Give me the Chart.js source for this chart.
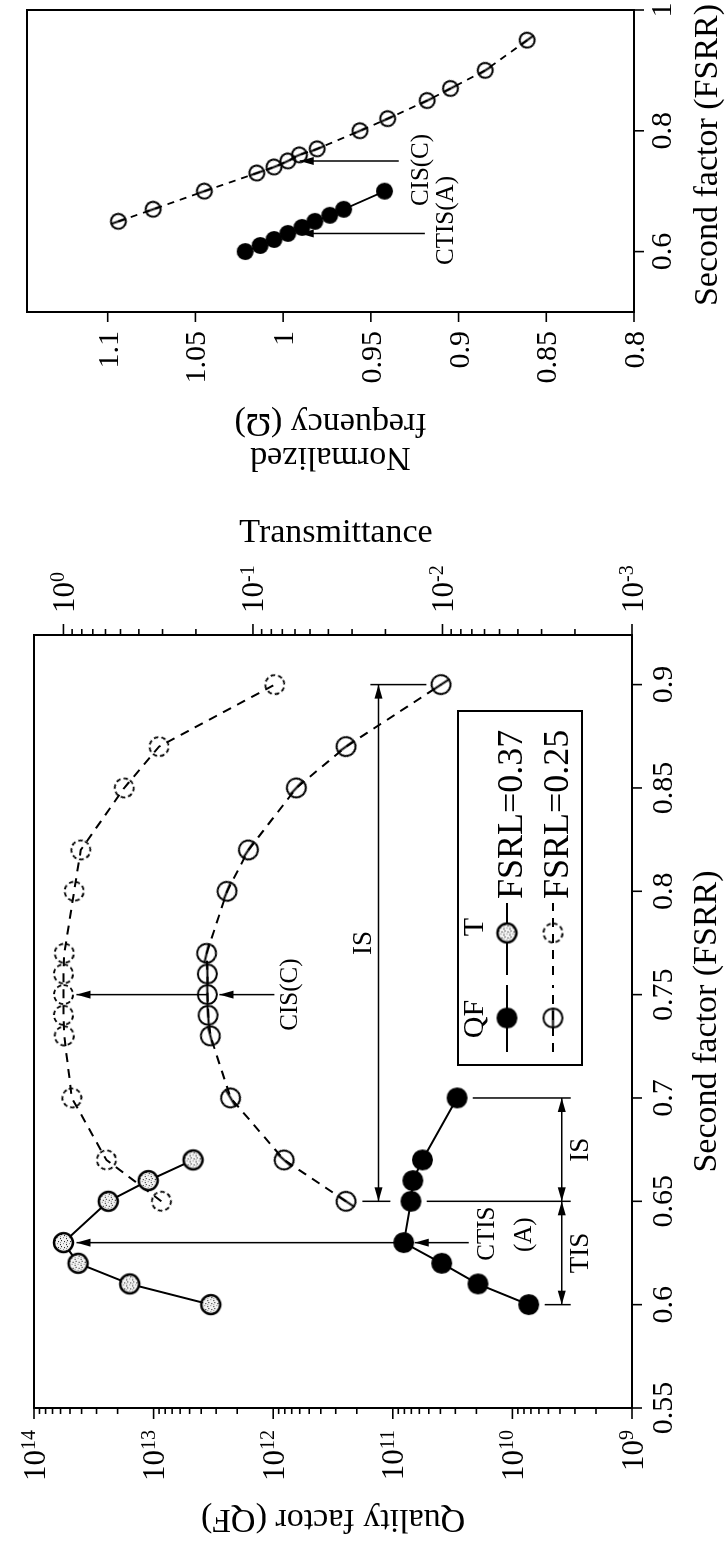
<!DOCTYPE html>
<html>
<head>
<meta charset="utf-8">
<script src="https://cdn.jsdelivr.net/npm/chart.js@4.4.1/dist/chart.umd.min.js"></script>
<style>
html, body { margin: 0; padding: 0; background: #fff; }
body { width: 728px; height: 1541px; overflow: hidden; position: relative; }
/* the figure is drawn in landscape and turned a quarter turn, like the scanned page */
#page { position: absolute; left: 0; top: 0; width: 1541px; height: 728px;
        transform-origin: 0 0; transform: translateY(1541px) rotate(-90deg); }
#c1 { position: absolute; left: 0; top: 0; }
#c2 { position: absolute; left: 1050px; top: 0; }
</style>
</head>
<body>
<div id="page">
  <canvas id="c1" width="1050" height="728"></canvas>
  <canvas id="c2" width="491" height="728"></canvas>
</div>
<script>
const SERIF = '"Liberation Serif", "Times New Roman", serif';

// ---- left panel: quality factor and transmittance vs FSRR ----
const fsrrQF37 = [0.60, 0.61, 0.62, 0.63, 0.65, 0.66, 0.67, 0.70];
const qf37     = [7.3e9, 1.94e10, 3.9e10, 8.1e10, 7.05e10, 6.8e10, 5.65e10, 2.9e10];
const fsrrT37  = [0.60, 0.61, 0.62, 0.63, 0.65, 0.66, 0.67];
const t37      = [0.167, 0.447, 0.837, 1.0, 0.58, 0.357, 0.207];
const fsrr25   = [0.65, 0.67, 0.70, 0.73, 0.74, 0.75, 0.76, 0.77, 0.80, 0.82, 0.85, 0.87, 0.90];
const qf25     = [2.46e11, 8.1e11, 2.27e12, 3.35e12, 3.5e12, 3.55e12, 3.55e12, 3.6e12, 2.43e12, 1.61e12, 6.4e11, 2.46e11, 3.95e10];
const t25      = [0.304, 0.593, 0.903, 0.99, 1.0, 1.0, 1.0, 0.99, 0.878, 0.81, 0.478, 0.313, 0.0767];

// ---- right panel: normalized frequency vs FSRR ----
const fsrrCTIS  = [0.60, 0.61, 0.62, 0.63, 0.64, 0.65, 0.66, 0.67, 0.70];
const omegaCTIS = [1.0216, 1.0131, 1.0052, 0.9973, 0.9893, 0.9819, 0.9734, 0.9655, 0.9422];
const fsrrCIS   = [0.65, 0.67, 0.70, 0.73, 0.74, 0.75, 0.76, 0.77, 0.80, 0.82, 0.85, 0.87, 0.90, 0.95];
const omegaCIS  = [1.0939, 1.0741, 1.0449, 1.015, 1.0052, 0.9973, 0.9907, 0.9806, 0.9562, 0.9404, 0.9179, 0.9046, 0.8848, 0.8609];

// ---- ticks ----
const fsrrTicksA = [0.55, 0.6, 0.65, 0.7, 0.75, 0.8, 0.85, 0.9];
const qfDecades  = [9, 10, 11, 12, 13, 14];
const tDecades   = [-3, -2, -1, 0];
const omegaTicks = [0.8, 0.85, 0.9, 0.95, 1, 1.05, 1.1];
const fsrrTicksB = [0.6, 0.8, 1];

// annotation levels (in QF units) for the IS / TIS dimension lines
const isLevel25 = 1.32e11;
const isLevel37 = 3.87e9;

const pt = (xs, ys) => xs.map((x, i) => ({x, y: ys[i]}));
const fmt = v => String(+v.toFixed(2));

function stipple(g) {
    const p = document.createElement('canvas');
    p.width = p.height = 6;
    const q = p.getContext('2d');
    q.fillStyle = '#f2f2f2';
    q.fillRect(0, 0, 6, 6);
    q.fillStyle = '#111';
    q.fillRect(1, 1, 1, 1);
    q.fillRect(4, 3, 1, 1);
    q.fillRect(2, 4, 1, 1);
    q.fillStyle = '#888';
    q.fillRect(5, 0, 1, 1);
    q.fillRect(0, 3, 1, 1);
    return g.createPattern(p, 'repeat');
}

function makeMarker(kind, r) {
    const s = Math.ceil(r * 2 + 6), m = s / 2;
    const c = document.createElement('canvas');
    c.width = c.height = s;
    const g = c.getContext('2d');
    g.strokeStyle = '#000';
    g.fillStyle = '#000';
    g.lineWidth = 2;
    g.beginPath();
    g.arc(m, m, kind === 'filled' ? r + 1 : r, 0, Math.PI * 2);
    if (kind === 'filled') {
        g.fill();
    } else if (kind === 'hatched') {
        g.fillStyle = stipple(g);
        g.fill();
        g.lineWidth = 2.4;
        g.stroke();
    } else if (kind === 'slash') {
        g.stroke();
        g.beginPath();
        g.moveTo(m - r, m);
        g.lineTo(m + r, m);
        g.stroke();
    } else {
        g.setLineDash([4.5, 3]);
        g.lineWidth = 1.8;
        g.stroke();
    }
    return c;
}

const MK = {
    filled: makeMarker('filled', 9.5), hatched: makeMarker('hatched', 9.5),
    slash: makeMarker('slash', 9.5), dashed: makeMarker('dashed', 9.5),
};
const MKs = {filled: makeMarker('filled', 7.5), slash: makeMarker('slash', 7.5)};

// rotate the open markers so their bar follows the connecting line
function segAngle(c) {
    const ds = c.dataset;
    const xs = c.chart.scales.x, ys = c.chart.scales[ds.yAxisID || 'y'];
    const n = ds.data.length, i = c.dataIndex;
    const a = ds.data[Math.max(i - 1, 0)], b = ds.data[Math.min(i + 1, n - 1)];
    const dx = xs.getPixelForValue(b.x) - xs.getPixelForValue(a.x);
    const dy = ys.getPixelForValue(b.y) - ys.getPixelForValue(a.y);
    return Math.atan2(dy, dx) * 180 / Math.PI;
}

function logTicks(decades) {
    const out = [];
    decades.forEach((e, k) => {
        for (let m = 1; m <= 9; m++) {
            if (k === decades.length - 1 && m > 1) break;
            out.push({value: m * Math.pow(10, e), major: m === 1});
        }
    });
    return out;
}

// ------------------------------------------------------------------
// drawing helpers
// ------------------------------------------------------------------

function line(ctx, x1, y1, x2, y2) {
    ctx.beginPath();
    ctx.moveTo(x1, y1);
    ctx.lineTo(x2, y2);
    ctx.stroke();
}

function head(ctx, x, y, ang) {
    const len = 14, w = 4;
    ctx.beginPath();
    ctx.moveTo(x, y);
    ctx.lineTo(x - len * Math.cos(ang) - w * Math.sin(ang), y - len * Math.sin(ang) + w * Math.cos(ang));
    ctx.lineTo(x - len * Math.cos(ang) + w * Math.sin(ang), y - len * Math.sin(ang) - w * Math.cos(ang));
    ctx.closePath();
    ctx.fill();
}

function arrow(ctx, x1, y1, x2, y2, both) {
    line(ctx, x1, y1, x2, y2);
    const ang = Math.atan2(y2 - y1, x2 - x1);
    head(ctx, x2, y2, ang);
    if (both) head(ctx, x1, y1, ang + Math.PI);
}

function powLabel(ctx, exp, x, y, align) {
    const es = String(exp);
    ctx.font = `31px ${SERIF}`;
    const wb = ctx.measureText('10').width;
    ctx.font = `20px ${SERIF}`;
    const we = ctx.measureText(es).width;
    const left = align === 'right' ? x - wb - we : x;
    ctx.textAlign = 'left';
    ctx.textBaseline = 'alphabetic';
    ctx.font = `31px ${SERIF}`;
    ctx.fillText('10', left, y + 10.5);
    ctx.font = `20px ${SERIF}`;
    ctx.fillText(es, left + wb, y + 1);
}

function rotText(ctx, txt, x, y, ang) {
    ctx.save();
    ctx.translate(x, y);
    ctx.rotate(ang);
    ctx.textAlign = 'center';
    ctx.textBaseline = 'alphabetic';
    ctx.fillText(txt, 0, 0);
    ctx.restore();
}

function marks(ctx, scale, side, edge, lenFn) {
    scale.ticks.forEach(t => {
        const p = scale.getPixelForValue(t.value);
        const len = lenFn(t);
        if (side === 'left') line(ctx, edge, p, edge - len, p);
        else if (side === 'right') line(ctx, edge, p, edge + len, p);
        else line(ctx, p, edge, p, edge + len);
    });
}

function drawLegend(ctx, a) {
    const L = a.left + 343, T = a.top + 424, W = 354, H = 124;
    ctx.lineWidth = 2;
    ctx.strokeRect(L, T, W, H);
    ctx.font = `30px ${SERIF}`;
    ctx.textAlign = 'center';
    ctx.textBaseline = 'alphabetic';
    ctx.fillText('QF', L + 46, T + 25);
    ctx.fillText('T', L + 138, T + 25);
    const rows = [
        {y: T + 49, dash: [], qm: MK.filled, tm: MK.hatched, txt: 'FSRL=0.37'},
        {y: T + 95, dash: [9, 7], qm: MK.slash, tm: MK.dashed, txt: 'FSRL=0.25'},
    ];
    rows.forEach(r => {
        ctx.lineWidth = 2;
        ctx.setLineDash(r.dash);
        line(ctx, L + 13, r.y, L + 80, r.y);
        line(ctx, L + 90, r.y, L + 162, r.y);
        ctx.setLineDash([]);
        ctx.drawImage(r.qm, L + 47 - r.qm.width / 2, r.y - r.qm.height / 2);
        ctx.drawImage(r.tm, L + 132 - r.tm.width / 2, r.y - r.tm.height / 2);
        ctx.font = `36px ${SERIF}`;
        ctx.textAlign = 'left';
        ctx.fillText(r.txt, L + 166, r.y + 15);
    });
}

const hidden = {grid: {display: false, drawTicks: false}, border: {display: false}, ticks: {display: false}};

// ------------------------------------------------------------------
// left panel
// ------------------------------------------------------------------

const frameLeft = {
    id: 'frameLeft',
    afterDraw(chart) {
        const {ctx, chartArea: a, scales: {x, yQF, yT}} = chart;
        ctx.save();
        ctx.strokeStyle = '#000';
        ctx.fillStyle = '#000';
        ctx.lineWidth = 2;
        ctx.strokeRect(a.left, a.top, a.right - a.left, a.bottom - a.top);

        ctx.lineWidth = 1.6;
        marks(ctx, x, 'bottom', a.bottom, () => 10);
        marks(ctx, yQF, 'left', a.left, t => t.major ? 11 : 6);
        marks(ctx, yT, 'right', a.right, t => t.major ? 11 : 6);

        // tick labels
        ctx.font = `30px ${SERIF}`;
        ctx.textAlign = 'center';
        ctx.textBaseline = 'alphabetic';
        x.ticks.forEach(t => ctx.fillText(fmt(t.value), x.getPixelForValue(t.value), a.bottom + 40));
        qfDecades.forEach(e => powLabel(ctx, e, a.left - 22, yQF.getPixelForValue(Math.pow(10, e)), 'right'));
        tDecades.forEach(e => powLabel(ctx, e, a.right + 22, yT.getPixelForValue(Math.pow(10, e)), 'left'));

        // axis titles
        ctx.font = `34px ${SERIF}`;
        const midY = (a.top + a.bottom) / 2;
        rotText(ctx, 'Quality factor (QF)', 31, midY, -Math.PI / 2);
        rotText(ctx, 'Transmittance', a.right + 93, midY + 3, Math.PI / 2);
        rotText(ctx, 'Second factor (FSRR)', (a.left + a.right) / 2, a.bottom + 84, 0);

        // annotations
        ctx.lineWidth = 1.5;
        ctx.font = `25px ${SERIF}`;
        ctx.textAlign = 'center';

        // CTIS (A) at FSRR 0.63
        const xA = x.getPixelForValue(0.63);
        const yAq = yQF.getPixelForValue(qf37[3]);
        const yAt = yT.getPixelForValue(t37[3]);
        arrow(ctx, xA, yAq, xA, yAt + 13);
        arrow(ctx, xA, yAq + 65, xA, yAq + 11);
        ctx.fillText('CTIS', xA + 9, yAq + 90);
        ctx.fillText('(A)', xA + 8, yAq + 127);

        // CIS(C) at FSRR 0.75
        const xC = x.getPixelForValue(0.75);
        const yCq = yQF.getPixelForValue(qf25[5]);
        const yCt = yT.getPixelForValue(t25[5]);
        arrow(ctx, xC, yCq, xC, yCt + 13);
        arrow(ctx, xC, yCq + 67, xC, yCq + 12);
        ctx.fillText('CIS(C)', xC, yCq + 90);

        // IS for FSRL = 0.25
        const yI = yQF.getPixelForValue(isLevel25);
        const x65 = x.getPixelForValue(0.65), x90 = x.getPixelForValue(0.9);
        arrow(ctx, x65, yI, x90, yI, true);
        line(ctx, x90, yI - 8, x90, yI + 48);
        line(ctx, x65, yI - 16, x65, yI + 12);
        ctx.font = `27px ${SERIF}`;
        ctx.fillText('IS', x.getPixelForValue(0.775), yI - 7);

        // TIS / IS for FSRL = 0.37
        const yT2 = yQF.getPixelForValue(isLevel37);
        const x60 = x.getPixelForValue(0.6), x70 = x.getPixelForValue(0.7);
        arrow(ctx, x60, yT2, x65, yT2, true);
        arrow(ctx, x65, yT2, x70, yT2, true);
        line(ctx, x60, yT2 - 17, x60, yT2 + 9);
        line(ctx, x65, yT2 - 135, x65, yT2 + 9);
        line(ctx, x70, yT2 - 89, x70, yT2 + 9);
        ctx.fillText('TIS', x.getPixelForValue(0.625), yT2 + 26);
        ctx.fillText('IS', x.getPixelForValue(0.675), yT2 + 26);

        drawLegend(ctx, a);
        ctx.restore();
    },
};

new Chart(document.getElementById('c1'), {
    type: 'line',
    data: {
        datasets: [
            {label: 'QF, FSRL=0.37', data: pt(fsrrQF37, qf37), yAxisID: 'yQF',
             borderColor: '#000', borderWidth: 2, pointStyle: MK.filled, pointRadius: 10},
            {label: 'T, FSRL=0.37', data: pt(fsrrT37, t37), yAxisID: 'yT',
             borderColor: '#000', borderWidth: 2, pointStyle: MK.hatched, pointRadius: 10},
            {label: 'QF, FSRL=0.25', data: pt(fsrr25, qf25), yAxisID: 'yQF',
             borderColor: '#000', borderWidth: 2, borderDash: [9, 7],
             pointStyle: MK.slash, pointRadius: 10, pointRotation: segAngle},
            {label: 'T, FSRL=0.25', data: pt(fsrr25, t25), yAxisID: 'yT',
             borderColor: '#000', borderWidth: 2, borderDash: [9, 7],
             pointStyle: MK.dashed, pointRadius: 10, pointRotation: segAngle},
        ],
    },
    options: {
        responsive: false,
        animation: false,
        layout: {padding: {top: 34, left: 0, right: 0, bottom: 0}},
        plugins: {legend: {display: false}, tooltip: {enabled: false}},
        scales: {
            x: {type: 'linear', position: 'bottom', min: 0.55, max: 0.924, ...hidden,
                afterBuildTicks: s => { s.ticks = fsrrTicksA.map(v => ({value: v})); },
                afterFit: s => { s.height = 96; }},
            yQF: {type: 'logarithmic', position: 'left', min: 1e9, max: 1e14, ...hidden,
                  afterBuildTicks: s => { s.ticks = logTicks(qfDecades); },
                  afterFit: s => { s.width = 133; }},
            yT: {type: 'logarithmic', position: 'right', min: 1e-3, max: 1.43, ...hidden,
                 afterBuildTicks: s => { s.ticks = logTicks(tDecades); },
                 afterFit: s => { s.width = 144; }},
        },
    },
    plugins: [frameLeft],
});

// ------------------------------------------------------------------
// right panel
// ------------------------------------------------------------------

const frameRight = {
    id: 'frameRight',
    afterDraw(chart) {
        const {ctx, chartArea: a, scales: {x, y}} = chart;
        ctx.save();
        ctx.strokeStyle = '#000';
        ctx.fillStyle = '#000';
        ctx.lineWidth = 2;
        ctx.strokeRect(a.left, a.top, a.right - a.left, a.bottom - a.top);
        ctx.lineWidth = 1.6;
        marks(ctx, x, 'bottom', a.bottom, () => 10);
        marks(ctx, y, 'left', a.left, () => 10);

        ctx.font = `30px ${SERIF}`;
        ctx.textBaseline = 'alphabetic';
        ctx.textAlign = 'center';
        x.ticks.forEach(t => ctx.fillText(fmt(t.value), x.getPixelForValue(t.value), a.bottom + 37));
        ctx.textAlign = 'right';
        y.ticks.forEach(t => ctx.fillText(fmt(t.value), a.left - 19, y.getPixelForValue(t.value) + 10));

        ctx.font = `34px ${SERIF}`;
        const midY = (a.top + a.bottom) / 2;
        rotText(ctx, 'Normalized', 43, midY, -Math.PI / 2);
        rotText(ctx, 'frequency (\u03A9)', 77, midY, -Math.PI / 2);
        rotText(ctx, 'Second factor (FSRR)', (a.left + a.right) / 2 + 6, a.bottom + 83, 0);

        ctx.lineWidth = 1.5;
        ctx.font = `25px ${SERIF}`;
        ctx.textAlign = 'center';
        const xC = x.getPixelForValue(0.75), yC = y.getPixelForValue(omegaCIS[5]);
        arrow(ctx, xC, yC + 111, xC, yC + 12);
        ctx.fillText('CIS(C)', xC - 9, yC + 140);
        const xA = x.getPixelForValue(0.63), yA = y.getPixelForValue(omegaCTIS[3]);
        arrow(ctx, xA, yA + 137, xA, yA + 12);
        ctx.fillText('CTIS(A)', xA + 13, yA + 165);
        ctx.restore();
    },
};

new Chart(document.getElementById('c2'), {
    type: 'line',
    data: {
        datasets: [
            {label: 'CTIS(A)', data: pt(fsrrCTIS, omegaCTIS),
             borderColor: '#000', borderWidth: 1.8, pointStyle: MKs.filled, pointRadius: 8},
            {label: 'CIS(C)', data: pt(fsrrCIS, omegaCIS),
             borderColor: '#000', borderWidth: 1.8, borderDash: [7, 6],
             pointStyle: MKs.slash, pointRadius: 8, pointRotation: segAngle},
        ],
    },
    options: {
        responsive: false,
        animation: false,
        layout: {padding: {top: 27, right: 10, left: 0, bottom: 0}},
        plugins: {legend: {display: false}, tooltip: {enabled: false}},
        scales: {
            x: {type: 'linear', position: 'bottom', min: 0.5, max: 1.0, ...hidden,
                afterBuildTicks: s => { s.ticks = fsrrTicksB.map(v => ({value: v})); },
                afterFit: s => { s.height = 94; }},
            y: {type: 'linear', position: 'left', min: 0.8, max: 1.146, ...hidden,
                afterBuildTicks: s => { s.ticks = omegaTicks.map(v => ({value: v})); },
                afterFit: s => { s.width = 179; }},
        },
    },
    plugins: [frameRight],
});
</script>
</body>
</html>
